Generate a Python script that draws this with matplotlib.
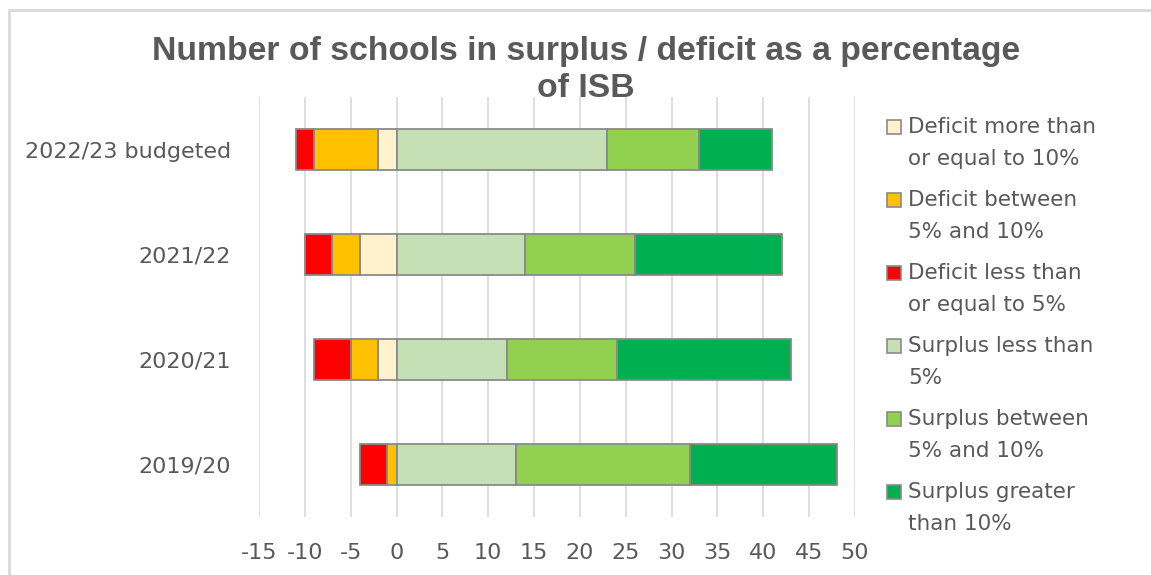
import matplotlib
matplotlib.use('Agg')
from matplotlib import pyplot as plt
from matplotlib.patches import Rectangle

# data (number of schools)
years = ['2019/20', '2020/21', '2021/22', '2022/23 budgeted']
deficit_ge10 = [0, 2, 4, 2]
deficit_5_10 = [1, 3, 3, 7]
deficit_le5 = [3, 4, 3, 2]
surplus_lt5 = [13, 12, 14, 23]
surplus_5_10 = [19, 12, 12, 10]
surplus_gt10 = [16, 19, 16, 8]

labels = ['Deficit more than\nor equal to 10%', 'Deficit between\n5% and 10%',
          'Deficit less than\nor equal to 5%', 'Surplus less than\n5%',
          'Surplus between\n5% and 10%', 'Surplus greater\nthan 10%']
colors = ['#FFF2CC', '#FFC000', '#FF0000', '#C5E0B4', '#92D050', '#00B050']

plt.rcParams['font.family'] = ['DejaVu Sans']
plt.rcParams['axes.unicode_minus'] = False
grey = '#595959'
W, H = 1151, 575

fig = plt.figure(figsize=(W/100, H/100), dpi=100)
ax = fig.add_axes([259/W, 1-517/H, 596/W, 420/H])

y = list(range(len(years)))
h = 0.39
ec = '#8a8a8a'
lw = 1.3

# deficits go to the left of zero, stacked outwards
left = [0]*4
for vals, c in zip([deficit_ge10, deficit_5_10, deficit_le5], colors[:3]):
    neg = [-v for v in vals]
    ax.barh(y, neg, left=left, height=h, color=c, edgecolor=ec, linewidth=lw, zorder=3)
    left = [l + n for l, n in zip(left, neg)]
# surpluses to the right
left = [0]*4
for vals, c in zip([surplus_lt5, surplus_5_10, surplus_gt10], colors[3:]):
    ax.barh(y, vals, left=left, height=h, color=c, edgecolor=ec, linewidth=lw, zorder=3)
    left = [l + v for l, v in zip(left, vals)]

ax.set_xlim(-15, 50)
ax.set_ylim(-0.5, 3.5)
ax.set_xticks(range(-15, 51, 5))
ax.set_yticks(y)
ax.set_yticklabels(years)
ax.tick_params(axis='both', length=0, labelsize=16, colors=grey)
ax.tick_params(axis='x', pad=19)
ax.tick_params(axis='y', pad=20)
ax.grid(axis='x', color='#d9d9d9', linewidth=1.2, zorder=0)
ax.set_axisbelow(True)
for s in ax.spines.values():
    s.set_visible(False)

title = fig.text(0.509, 1-70/H, 'Number of schools in surplus / deficit as a percentage\nof ISB',
                 ha='center', va='center', fontsize=25, fontweight='bold', color=grey,
                 linespacing=1.25, family=['DejaVu Sans Condensed', 'Liberation Sans', 'DejaVu Sans'])
# shrink the title so its first line is about as wide as in the original
r = fig.canvas.get_renderer()
w = title.get_window_extent(r).width
title.set_fontsize(25 * 870 / w)

# legend drawn by hand so the swatch sits on the first line of each label
for i, (lab, c) in enumerate(zip(labels, colors)):
    y0 = 127 + 73 * i
    fig.patches.append(Rectangle((887/W, 1-(y0+7)/H), 14/W, 14/H, transform=fig.transFigure,
                                 facecolor=c, edgecolor=ec, linewidth=1.2))
    fig.text(908/W, 1-(y0+16)/H, lab, ha='left', va='center', fontsize=15.5,
             color=grey, linespacing=1.75)

# light chart border
fig.patches.append(Rectangle((9/W, -0.1), 1.2, 1.1 - 10/H, transform=fig.transFigure,
                             fill=False, edgecolor='#d9d9d9', linewidth=2))

fig.savefig('out.png', dpi=100)
